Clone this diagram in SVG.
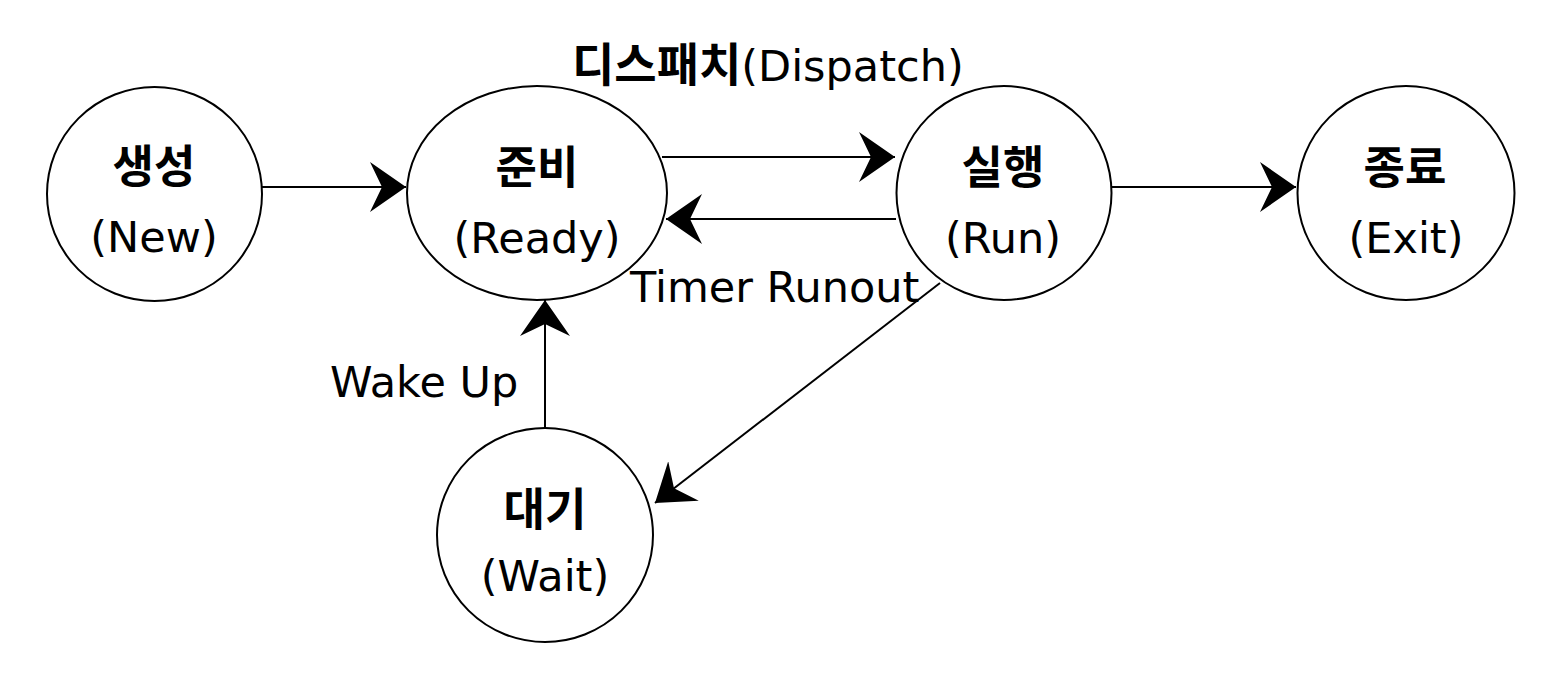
<svg xmlns="http://www.w3.org/2000/svg" width="1550" height="676" viewBox="0 0 1550 676">
<style>
.node{fill:#fff;stroke:#000;stroke-width:2}
.ko{font-family:"Noto Sans CJK KR","Noto Sans",sans-serif;font-weight:700;font-size:45px;fill:#000;text-anchor:middle}
.la{font-family:"DejaVu Sans","Liberation Sans",sans-serif;font-size:43px;fill:#000;text-anchor:middle}
.lbl{font-family:"DejaVu Sans","Liberation Sans",sans-serif;font-size:43px;fill:#000}
.edge{fill:none;stroke:#000;stroke-width:2;marker-end:url(#arr)}
</style>
<defs>
<marker id="arr" markerUnits="userSpaceOnUse" viewBox="0 0 36 50" refX="36" refY="25" markerWidth="36" markerHeight="50" orient="auto">
<path d="M0,0 L36,25 L0,50 L12,25 Z" fill="#000"/>
</marker>
</defs>
<rect width="1550" height="676" fill="#fff"/>
<g id="connectors">
<line class="edge" x1="262" y1="187" x2="406" y2="187"/>
<line class="edge" x1="662" y1="157" x2="895" y2="157"/>
<line class="edge" x1="896" y1="219" x2="666" y2="219"/>
<line class="edge" x1="1112" y1="187" x2="1296" y2="187"/>
<line class="edge" x1="545" y1="428" x2="545" y2="300"/>
<line class="edge" x1="940" y1="283" x2="655" y2="503"/>
</g>
<g id="node-new">
<ellipse class="node" cx="154.5" cy="194" rx="107.5" ry="107"/>
<text class="ko" x="154" y="183">생성</text>
<text class="la" x="154" y="252">(New)</text>
</g>
<g id="node-ready">
<ellipse class="node" cx="537" cy="193" rx="130" ry="107"/>
<text class="ko" x="537" y="184">준비</text>
<text class="la" x="537" y="253">(Ready)</text>
</g>
<g id="node-run">
<ellipse class="node" cx="1004" cy="193" rx="107.5" ry="107"/>
<text class="ko" x="1003" y="184">실행</text>
<text class="la" x="1003" y="253">(Run)</text>
</g>
<g id="node-exit">
<ellipse class="node" cx="1406" cy="193" rx="108.5" ry="107"/>
<text class="ko" x="1405" y="184">종료</text>
<text class="la" x="1406" y="253">(Exit)</text>
</g>
<g id="node-wait">
<ellipse class="node" cx="545" cy="535" rx="108" ry="107"/>
<text class="ko" x="545" y="526">대기</text>
<text class="la" x="545" y="591">(Wait)</text>
</g>
<g id="labels">
<text class="lbl" x="572" y="81"><tspan font-family="Noto Sans CJK KR, sans-serif" font-weight="700" font-size="46">디스패치</tspan><tspan>(Dispatch)</tspan></text>
<text class="lbl" x="630" y="302">Timer Runout</text>
<text class="lbl" x="330" y="397" font-size="42">Wake Up</text>
</g>
</svg>
